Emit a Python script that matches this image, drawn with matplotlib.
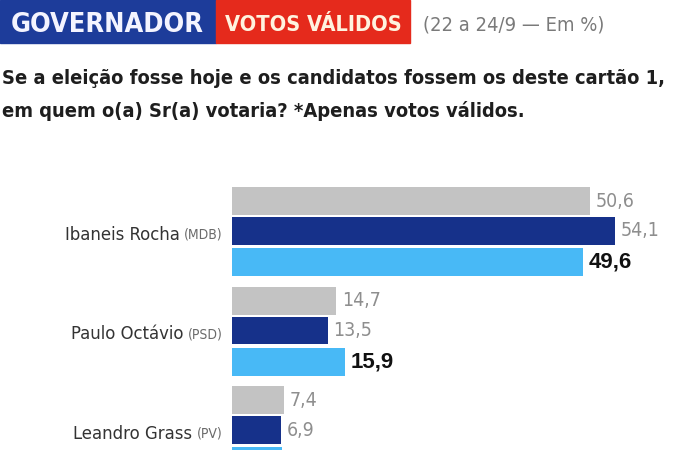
import numpy as np
import matplotlib
matplotlib.use('Agg')
import matplotlib.pyplot as plt
from matplotlib import font_manager
from matplotlib import patches

# dados (votos válidos, em %)
candidatos = ["Ibaneis Rocha", "Paulo Octávio", "Leandro Grass"]
partidos = ["(MDB)", "(PSD)", "(PV)"]
pesquisa_1 = [50.6, 14.7, 7.4]   # cinza
pesquisa_2 = [54.1, 13.5, 6.9]   # azul escuro
pesquisa_3 = [49.6, 15.9, 7.1]   # azul claro (ultimo cortado na imagem)

titulo = "GOVERNADOR"
selo = "VOTOS VÁLIDOS"
periodo = "(22 a 24/9 — Em %)"
pergunta = ["Se a eleição fosse hoje e os candidatos fossem os deste cartão 1,",
            "em quem o(a) Sr(a) votaria? *Apenas votos válidos."]

# fonte estreita, se houver
fams = {(f.name, f.stretch) for f in font_manager.fontManager.ttflist}
if any(n == 'Liberation Sans Narrow' for n, s in fams):
    NARROW, STRETCH = 'Liberation Sans Narrow', 'normal'
else:
    NARROW, STRETCH = 'DejaVu Sans', 'condensed'

W, H = 675, 450
fig = plt.figure(figsize=(W / 100, H / 100), dpi=100)
r = fig.canvas.get_renderer()


def fx(x):
    return x / W


def fy(y):
    return 1 - y / H


def fit(t, largura):
    # reduz a fonte até o texto caber na largura (px)
    w = t.get_window_extent(r).width
    if w > largura:
        t.set_fontsize(t.get_fontsize() * largura / w)
    return t.get_fontsize()


# cabeçalho
fig.patches.append(patches.Rectangle((fx(0), fy(43)), fx(216), 43 / H,
                                     transform=fig.transFigure, color='#1d3c9a', zorder=0))
fig.patches.append(patches.Rectangle((fx(216), fy(43)), fx(194), 43 / H,
                                     transform=fig.transFigure, color='#e52a1c', zorder=0))
t1 = fig.text(fx(107), fy(25), titulo, family=NARROW, stretch=STRETCH, weight='bold',
              fontsize=26, color='#f4f4ff', ha='center', va='center')
fit(t1, 193)
t2 = fig.text(fx(313), fy(25), selo, family=NARROW, stretch=STRETCH, weight='bold',
              fontsize=18, color='#fff3df', ha='center', va='center')
fit(t2, 177)
t3 = fig.text(fx(423), fy(25), periodo, family=NARROW, stretch=STRETCH, fontsize=16,
              color='#7a7a7a', ha='left', va='center')
fit(t3, 182)

s1 = fig.text(fx(2), fy(84), pergunta[0], family=NARROW, stretch=STRETCH, weight='bold',
              fontsize=16, color='#1e1e1e', ha='left', va='baseline')
tam = fit(s1, 666)
fig.text(fx(2), fy(117), pergunta[1], family=NARROW, stretch=STRETCH, weight='bold',
         fontsize=tam, color='#1e1e1e', ha='left', va='baseline')

# barras
ax = fig.add_axes([fx(232), 0, 1 - fx(232), 270 / H])
ax.set_xlim(0, (W - 232) / 7.08)
ax.set_ylim(219 / 99.5, -51 / 99.5)
ax.axis('off')

y = np.arange(len(candidatos))
series = [(pesquisa_1, -0.30, '#c3c3c3'),
          (pesquisa_2, 0.0, '#16318a'),
          (pesquisa_3, 0.315, '#48b9f6')]

for k, (vals, off, cor) in enumerate(series):
    ax.barh(y + off, vals, height=0.28, color=cor, clip_on=False)
    for yi, v in zip(y, vals):
        txt = f"{v:.1f}".replace('.', ',')
        if k == 2:
            ax.annotate(txt, xy=(v, yi + off), xytext=(4, 0), textcoords='offset points',
                        ha='left', va='center', fontsize=16, weight='bold',
                        family='Liberation Sans', color='#111111')
        else:
            ax.annotate(txt, xy=(v, yi + off), xytext=(4, 0), textcoords='offset points',
                        ha='left', va='center', fontsize=14, stretch=STRETCH,
                        color='#8e8e8e')

# nomes: partido à direita, nome à esquerda dele
tam_p = None
tam_n = None
for yi, nome, partido in zip(y, candidatos, partidos):
    p = ax.annotate(partido, xy=(0, yi + 0.04), xytext=(-7, 0), textcoords='offset points',
                    ha='right', va='center', family=NARROW, stretch=STRETCH,
                    fontsize=10, color='#6a6a6a', annotation_clip=False)
    if tam_p is None:
        tam_p = fit(p, 49)
    p.set_fontsize(tam_p)
    n = ax.annotate(nome, xy=(0, 0.5), xycoords=p, xytext=(-3, 0), textcoords='offset points',
                    ha='right', va='center', family=NARROW, stretch=STRETCH,
                    fontsize=15, color='#333333')
    if tam_n is None:
        tam_n = fit(n, 116)
    n.set_fontsize(tam_n)

plt.savefig('out.png', dpi=100)
plt.close()
